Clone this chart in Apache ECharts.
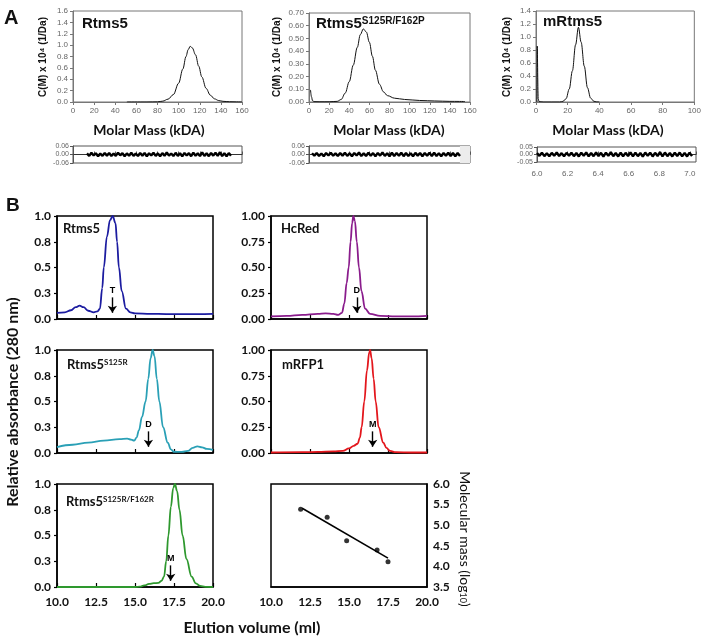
<!DOCTYPE html>
<html><head><meta charset="utf-8">
<script src="https://cdn.jsdelivr.net/npm/echarts@6/dist/echarts.min.js"></script>
<style>html,body{margin:0;padding:0;background:#fff}#c{width:704px;height:640px}</style>
</head><body><div id="c"></div>
<script>
// ===== Panel A : c(M) distributions =====
const aRtms5Mass = [51,70,80,85,90,95,100,104,107,109,111,113,116,119,122,126,130,134,138,142,148,155,160];
const aRtms5C    = [0,0,0.003,0.015,0.05,0.13,0.33,0.58,0.8,0.92,0.98,0.95,0.83,0.63,0.44,0.24,0.12,0.055,0.025,0.012,0.005,0.002,0];
const aDblMass = [1.5,2.5,3.5,5,10,20,28,32,36,40,44,48,51,54,57,60,63,66,70,74,78,85,95,110,125,140,155];
const aDblC    = [0.095,0.04,0.01,0.003,0.002,0.002,0.005,0.02,0.07,0.16,0.29,0.43,0.53,0.575,0.55,0.47,0.36,0.25,0.14,0.08,0.05,0.03,0.02,0.012,0.008,0.005,0.004];
const aMonoMass = [0.6,0.8,1.1,1.4,1.9,5,15,17,19,21,23,25,26.8,28.5,30.5,32.5,34.5,36.5,38,40];
const aMonoC    = [0,0.86,0.86,0.05,0.005,0,0,0.01,0.05,0.2,0.48,0.88,1.15,0.92,0.55,0.22,0.06,0.012,0.002,0];
// residuals (read as a dense noise band)
const resRtms5 = [0.008,-0.010,0.012,-0.007,0.009,-0.012,0.006,-0.009,0.011,-0.008,0.010,-0.011,0.007,-0.010,0.013,-0.006,0.009,-0.012,0.008,-0.009,0.012,-0.010,0.006,-0.011,0.010,-0.008,0.011,-0.013,0.009,-0.007,0.012,-0.010,0.008,-0.012,0.010,-0.009,0.014,-0.008,0.007,-0.011,0.012,-0.010,0.009,-0.013,0.011,-0.007,0.010,-0.012,0.013,-0.009,0.008,-0.011,0.015,-0.010,0.009,-0.012,0.011,-0.008,0.012,-0.010,0.016,-0.011,0.009,-0.012,0.010,-0.009];
const resDbl = [0.009,-0.008,0.011,-0.010,0.007,-0.012,0.010,-0.007,0.012,-0.009,0.008,-0.011,0.010,-0.008,0.013,-0.010,0.009,-0.012,0.011,-0.007,0.014,-0.011,0.008,-0.010,0.012,-0.009,0.010,-0.013,0.011,-0.008,0.015,-0.010,0.009,-0.012,0.012,-0.011,0.010,-0.009,0.013,-0.012,0.011,-0.010,0.009,-0.013,0.012,-0.008,0.011,-0.012,0.010,-0.009,0.013,-0.011,0.012,-0.010,0.009,-0.012,0.011,-0.009,0.012,-0.011,0.010,-0.012,0.011,-0.010];
const resMono = [0.010,-0.009,0.012,-0.011,0.008,-0.012,0.011,-0.008,0.013,-0.010,0.009,-0.012,0.011,-0.009,0.012,-0.011,0.010,-0.013,0.012,-0.009,0.014,-0.012,0.010,-0.011,0.013,-0.010,0.011,-0.014,0.012,-0.009,0.015,-0.011,0.010,-0.013,0.012,-0.012,0.011,-0.010,0.014,-0.013,0.012,-0.011,0.010,-0.014,0.013,-0.009,0.012,-0.013,0.011,-0.010,0.016,-0.012,0.013,-0.011,0.010,-0.013,0.012,-0.010,0.013,-0.012,0.011,-0.013,0.012,-0.011];

// ===== Panel B : gel filtration =====
const bRtms5V = [10,10.5,10.9,11.2,11.45,11.7,12.0,12.35,12.6,12.75,12.9,13.0,13.2,13.4,13.57,13.75,13.85,13.97,14.15,14.42,14.7,15,16,17,18,19,20];
const bRtms5A = [0.06,0.065,0.085,0.115,0.13,0.115,0.08,0.065,0.075,0.1,0.3,0.5,0.8,0.96,1.0,0.93,0.75,0.5,0.27,0.1,0.065,0.055,0.05,0.048,0.047,0.048,0.05];
const bHcRedV = [10,11,12,13,13.5,14,14.3,14.55,14.7,14.85,14.98,15.1,15.2,15.28,15.38,15.5,15.64,15.8,16.03,16.35,17,18,19,20];
const bHcRedA = [0.025,0.03,0.04,0.05,0.055,0.05,0.04,0.06,0.15,0.35,0.5,0.75,0.93,1.0,0.95,0.75,0.5,0.27,0.1,0.05,0.03,0.025,0.025,0.03];
const bS125RV = [10,11,12,13,14,14.5,14.75,14.95,15.1,15.25,15.45,15.68,15.85,16.0,16.13,16.25,16.4,16.56,16.8,17.1,17.3,17.5,18.0,18.4,18.7,19.0,19.3,19.6,20];
const bS125RA = [0.058,0.08,0.1,0.12,0.135,0.14,0.13,0.12,0.15,0.22,0.35,0.5,0.72,0.92,1.0,0.94,0.72,0.5,0.25,0.1,0.035,0.012,0.01,0.02,0.05,0.065,0.055,0.04,0.03];
const bMRFPV = [10,12,13,14,14.6,15.0,15.3,15.55,15.7,15.81,15.98,16.15,16.3,16.35,16.45,16.58,16.71,16.9,17.2,17.4,17.63,18,19,20];
const bMRFPA = [0.005,0.008,0.01,0.015,0.02,0.045,0.07,0.09,0.15,0.25,0.5,0.8,0.98,1.0,0.92,0.72,0.5,0.25,0.1,0.05,0.02,0.008,0.005,0.005];
const bF162RV = [10,15,15.3,15.6,15.9,16.2,16.5,16.7,16.86,17.0,17.14,17.3,17.45,17.56,17.7,17.85,18.05,18.3,18.63,18.9,19.17,19.5,20];
const bF162RA = [0,0,0.003,0.015,0.03,0.037,0.04,0.06,0.1,0.25,0.5,0.78,0.96,1.0,0.93,0.75,0.5,0.27,0.1,0.035,0.01,0.002,0];
// calibration standards
const stdVolume = [11.9,13.6,14.85,16.8,17.5];
const stdLogMass = [5.39,5.19,4.62,4.40,4.11];
const fitVolume = [12.0,17.5];
const fitLogMass = [5.41,4.20];
// arrow markers (elution volume of marker, label)
const markerRtms5 = [13.55,'T'], markerHcRed = [15.5,'D'], markerS125R = [15.86,'D'], markerMRFP = [16.52,'M'], markerF162R = [17.29,'M'];

const zip = (a,b) => a.map((v,i)=>[v,b[i]]);
const AR = 'Liberation Sans', CAL = 'Lato';

const grids = [], xAxes = [], yAxes = [], series = [];
function addGrid(g, xa, ya) {
  const i = grids.length;
  grids.push(Object.assign({show:true, backgroundColor:'transparent', containLabel:false}, g));
  xAxes.push(Object.assign({gridIndex:i, type:'value', splitLine:{show:false}}, xa));
  yAxes.push(Object.assign({gridIndex:i, type:'value', splitLine:{show:false}}, ya));
  return i;
}
const aLbl = {fontSize:8, color:'#666', fontFamily:AR};
function aMain(left, top, w, h, xmax, ymax, yint, ydec) {
  return addGrid({left, top, width:w, height:h, borderColor:'#777', borderWidth:1},
    {min:0, max:xmax, interval:20, axisLine:{lineStyle:{color:'#777'}}, axisTick:{length:3, lineStyle:{color:'#777'}}, axisLabel:Object.assign({margin:5}, aLbl)},
    {min:0, max:ymax, interval:yint, axisLine:{lineStyle:{color:'#777'}}, axisTick:{length:3, lineStyle:{color:'#777'}}, axisLabel:Object.assign({margin:5, formatter:v=>v.toFixed(ydec)}, aLbl)});
}
function aCurve(i, xs, ys) {
  series.push({type:'line', xAxisIndex:i, yAxisIndex:i, data:zip(xs,ys), smooth:0.35, smoothMonotone:'x', symbol:'none', lineStyle:{color:'#111', width:1}, silent:true});
}
function aRes(left, top, w, h, xmin, xmax, xint, ylim, showX, innerLeft, innerW, res, shade) {
  const o = addGrid({left, top, width:w, height:h, borderColor:'#555', borderWidth:1},
    {min:xmin, max:xmax, interval:xint, axisLine:{onZero:true, lineStyle:{color:'#333'}}, axisTick:{show:true, inside:true, length:3, lineStyle:{color:'#555'}},
     axisLabel:Object.assign({show:showX, margin:8, formatter:v=>Math.abs(v/xint-Math.round(v/xint))<1e-6?v.toFixed(1):''}, aLbl)},
    {min:-ylim, max:ylim, interval:ylim, axisLine:{lineStyle:{color:'#555'}}, axisTick:{length:3}, axisLabel:Object.assign({margin:4, formatter:v=>v.toFixed(2)}, aLbl, {fontSize:7})});
  if (shade) series.push({type:'line', xAxisIndex:o, yAxisIndex:o, data:[], markArea:{silent:true, itemStyle:{color:'#ececec'}, data:[[{xAxis:shade[0]},{xAxis:shade[1]}]]}});
  const n = addGrid({left:innerLeft, top, width:innerW, height:h, show:false},
    {type:'category', boundaryGap:false, data:res.map((_,k)=>k), show:false},
    {min:-ylim, max:ylim, show:false});
  series.push({type:'line', xAxisIndex:n, yAxisIndex:n, data:res, symbol:'none', lineStyle:{color:'#000', width:2.4}, silent:true});
}

// A panels
const a1 = aMain(73, 11, 169, 91, 160, 1.6, 0.2, 1);  aCurve(a1, aRtms5Mass, aRtms5C);
const a2 = aMain(309, 13, 161, 89, 160, 0.7, 0.1, 2); aCurve(a2, aDblMass, aDblC);
const a3 = aMain(536, 11, 159, 91, 100, 1.4, 0.2, 1); aCurve(a3, aMonoMass, aMonoC);
aRes(73, 146, 169, 17, 0, 160, 20, 0.06, false, 87, 144, resRtms5, null);
aRes(309, 146, 161, 17, 0, 160, 20, 0.06, false, 312, 148, resDbl, [150,160]);
aRes(537, 147, 159, 15, 6.0, 7.04, 0.2, 0.05, true, 537, 155, resMono, null);

// B panels
const bLbl = {fontSize:12, fontWeight:'bold', color:'#111', fontFamily:CAL};
function bPanel(left, top, showX, dec) {
  return addGrid({left, top, width:156, height:103, borderColor:'#000', borderWidth:1.5},
    {min:10, max:20, interval:2.5, axisLine:{lineStyle:{color:'#000', width:1.5}}, axisTick:{inside:true, length:4, lineStyle:{color:'#000', width:1.2}},
     axisLabel:Object.assign({show:showX, margin:9, formatter:v=>v.toFixed(1)}, bLbl)},
    {min:0, max:1, interval:0.25, axisLine:{lineStyle:{color:'#000', width:1.5}}, axisTick:{length:3, lineStyle:{color:'#000', width:1.2}},
     axisLabel:Object.assign({margin:6, formatter:v=>v.toFixed(dec)}, bLbl)});
}
function bCurve(i, xs, ys, color, marker) {
  series.push({type:'line', xAxisIndex:i, yAxisIndex:i, data:zip(xs,ys), smooth:0.4, smoothMonotone:'x', symbol:'none', lineStyle:{color, width:1.8}, silent:true,
    markLine:{silent:true, animation:false, symbol:['none','arrow'], symbolSize:7,
      lineStyle:{color:'#000', width:1.4, type:'solid'},
      label:{show:true, position:'start', formatter:marker[1], fontSize:9, fontWeight:'bold', color:'#000', fontFamily:AR, distance:2},
      data:[[{coord:[marker[0],0.21]},{coord:[marker[0],0.06]}]]}});
}
const b1 = bPanel(57, 216, false, 1);  bCurve(b1, bRtms5V, bRtms5A, '#1c1ca0', markerRtms5);
const b2 = bPanel(271, 216, false, 2); bCurve(b2, bHcRedV, bHcRedA, '#8a1c8c', markerHcRed);
const b3 = bPanel(57, 350, false, 1);  bCurve(b3, bS125RV, bS125RA, '#2aa0b6', markerS125R);
const b4 = bPanel(271, 350, false, 2); bCurve(b4, bMRFPV, bMRFPA, '#e3161c', markerMRFP);
const b5 = bPanel(57, 484, true, 1);   bCurve(b5, bF162RV, bF162RA, '#2e982e', markerF162R);
const b6 = addGrid({left:271, top:484, width:156, height:103, borderColor:'#000', borderWidth:1.5},
  {min:10, max:20, interval:2.5, axisLine:{lineStyle:{color:'#000', width:1.5}}, axisTick:{show:false}, axisLabel:Object.assign({margin:9, formatter:v=>v.toFixed(1)}, bLbl)},
  {position:'right', min:3.5, max:6, interval:0.5, axisLine:{lineStyle:{color:'#000', width:1.5}}, axisTick:{show:false}, axisLabel:Object.assign({margin:6, formatter:v=>v.toFixed(1)}, bLbl)});
series.push({type:'line', xAxisIndex:b6, yAxisIndex:b6, data:zip(fitVolume, fitLogMass), symbol:'none', lineStyle:{color:'#000', width:1.6}, silent:true});
series.push({type:'scatter', xAxisIndex:b6, yAxisIndex:b6, data:zip(stdVolume, stdLogMass), symbol:'circle', symbolSize:5, itemStyle:{color:'#000'}, silent:true});

function txt(x, y, text, font, opts) {
  return Object.assign({type:'text', x, y, silent:true, style:Object.assign({text, font, fill:'#111', textAlign:'left', textVerticalAlign:'middle'}, opts && opts.style)}, opts && opts.el);
}
const yTitleA = 'C(M) x 10\u2074 (1/Da)';
const graphic = [
  txt(4, 18, 'A', `bold 20px "${AR}"`),
  txt(6, 206, 'B', `bold 19px "${AR}"`),
  txt(82, 24, 'Rtms5', `bold 15px "${AR}"`),
  {type:'text', x:316, y:24, silent:true, style:{text:'{a|Rtms5}{b|S125R/F162P}', textVerticalAlign:'middle', fill:'#111',
    rich:{a:{font:`bold 15px "${AR}"`}, b:{font:`bold 10px "${AR}"`, verticalAlign:'top', padding:[0,0,6,0]}}}},
  txt(543, 22, 'mRtms5', `bold 15px "${AR}"`),
  txt(43, 57, yTitleA, `bold 10px "${AR}"`, {style:{textAlign:'center'}, el:{rotation:Math.PI/2}}),
  txt(277, 57, yTitleA, `bold 10px "${AR}"`, {style:{textAlign:'center'}, el:{rotation:Math.PI/2}}),
  txt(507, 57, yTitleA, `bold 10px "${AR}"`, {style:{textAlign:'center'}, el:{rotation:Math.PI/2}}),
  txt(149, 130, 'Molar Mass (kDA)', `bold 14px "${CAL}"`, {style:{textAlign:'center'}}),
  txt(389, 130, 'Molar Mass (kDA)', `bold 14px "${CAL}"`, {style:{textAlign:'center'}}),
  txt(608, 130, 'Molar Mass (kDA)', `bold 14px "${CAL}"`, {style:{textAlign:'center'}}),
  txt(63, 229, 'Rtms5', `bold 13px "${CAL}"`),
  txt(281, 229, 'HcRed', `bold 13px "${CAL}"`),
  {type:'text', x:67, y:365, silent:true, style:{text:'{a|Rtms5}{b|S125R}', textVerticalAlign:'middle', fill:'#111',
    rich:{a:{font:`bold 13px "${CAL}"`}, b:{font:`bold 8px "${CAL}"`, verticalAlign:'top', padding:[0,0,5,0]}}}},
  txt(282, 365, 'mRFP1', `bold 13px "${CAL}"`),
  {type:'text', x:66, y:502, silent:true, style:{text:'{a|Rtms5}{b|S125R/F162R}', textVerticalAlign:'middle', fill:'#111',
    rich:{a:{font:`bold 13px "${CAL}"`}, b:{font:`bold 8px "${CAL}"`, verticalAlign:'top', padding:[0,0,5,0]}}}},
  txt(13, 402, 'Relative absorbance (280 nm)', `bold 16px "${CAL}"`, {style:{textAlign:'center'}, el:{rotation:Math.PI/2}}),
  txt(252, 628, 'Elution volume (ml)', `bold 16px "${CAL}"`, {style:{textAlign:'center'}}),
  {type:'text', x:465, y:539, silent:true, rotation:-Math.PI/2, style:{text:'{a|Molecular mass (log}{s|10}{a|)}', textAlign:'center', textVerticalAlign:'middle', fill:'#111',
    rich:{a:{font:`14px "${CAL}"`}, s:{font:`9px "${CAL}"`, verticalAlign:'bottom', padding:[5,0,0,0]}}}}
];

const chart = echarts.init(document.getElementById('c'), null, {renderer:'canvas'});
chart.setOption({animation:false, grid:grids, xAxis:xAxes, yAxis:yAxes, series, graphic});
</script></body></html>
